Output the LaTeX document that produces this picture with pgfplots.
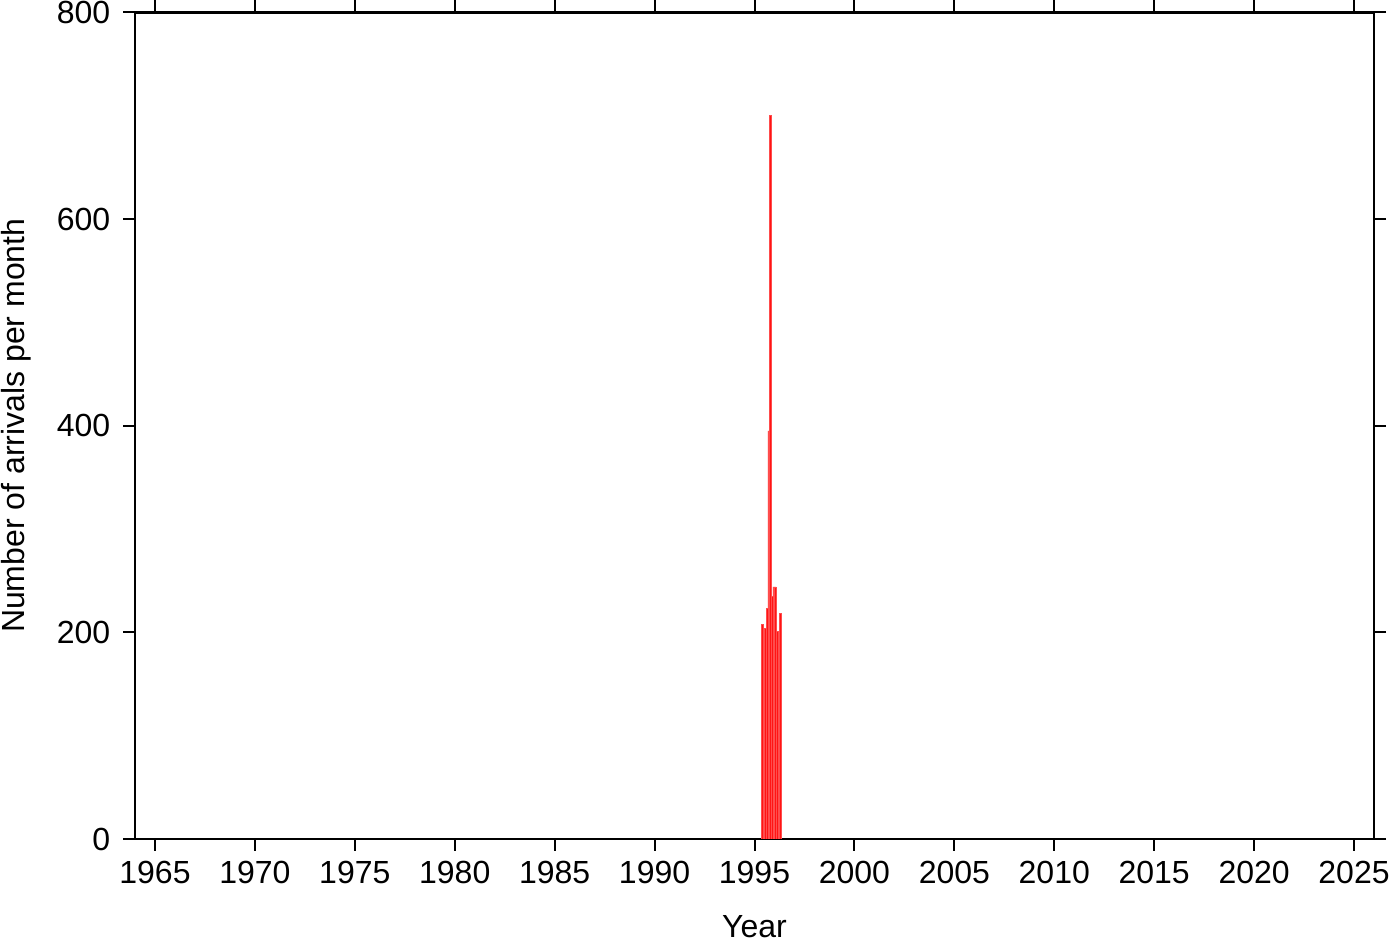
\documentclass[border=0pt]{standalone}
\usepackage{fontspec}
\setmainfont{Liberation Sans}
\usepackage{pgfplots}
\pgfplotsset{compat=1.18}
\begin{document}
\begin{tikzpicture}
\begin{axis}[
  scale only axis, width=619.5pt, height=413.25pt,
  xmin=1964, xmax=2026, ymin=0, ymax=800,
  xtick={1965,1970,...,2025}, ytick={0,200,...,800},
  tick align=outside, major tick length=6pt,
  axis line style={line width=1.2pt},
  every tick/.style={black, line width=1pt},
  /pgf/number format/.cd, set thousands separator={}, assume math mode=true, /pgfplots/.cd,
  tick label style={font=\fontsize{16}{19}\selectfont, inner sep=0pt},
  x tick label style={yshift=-4.7pt},
  y tick label style={xshift=-6.2pt},
  label style={font=\fontsize{16}{19}\selectfont, inner sep=0pt},
  xlabel={Year}, ylabel={Number of arrivals per month},
  xlabel style={at={(axis description cs:0.5,0)}, anchor=center, yshift=-44pt},
  ylabel style={at={(axis description cs:-0.0955,0.5)}, anchor=center},
]
\addplot[ybar interval, fill=red!92!white, draw=red!70!white, line width=0.3pt] coordinates {
(1995.3333,208) (1995.4167,204) (1995.5,204) (1995.5833,223) (1995.6667,395)
(1995.75,700) (1995.8333,235) (1995.9167,244) (1996.0,244) (1996.0833,201)
(1996.1667,191) (1996.25,218) (1996.3333,0)
};
\end{axis}
\pgfresetboundingbox
\path ([xshift=-67.5pt,yshift=-51.5pt]current axis.south west) rectangle ([xshift=13pt,yshift=6.25pt]current axis.north east);
\end{tikzpicture}
\end{document}
